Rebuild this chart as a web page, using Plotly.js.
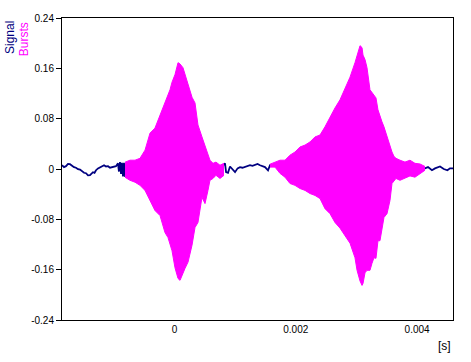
<!DOCTYPE html>
<html>
<head>
<meta charset="utf-8">
<script src="https://cdn.plot.ly/plotly-3.0.1.min.js"></script>
<style>html,body{margin:0;padding:0;background:#fff;}#chart{width:471px;height:362px;}</style>
</head>
<body>
<div id="chart"></div>
<script>
// ---- Data (time in ms, amplitude in signal units) ----
var signalTimeMs = [-1.855,-1.822,-1.789,-1.756,-1.723,-1.690,-1.657,-1.624,-1.591,-1.558,-1.525,-1.492,-1.459,-1.426,-1.393,-1.368,-1.344,-1.319,-1.294,-1.261,-1.228,-1.195,-1.162,-1.129,-1.096,-1.063,-1.031,-0.998,-0.965,-0.932,-0.916,-0.899,-0.882,-0.866,-0.849,-0.833,-0.816,
  0.585,0.635,0.684,0.734,0.783,0.833,0.850,0.882,0.915,0.948,0.998,1.040,1.080,1.120,1.162,1.205,1.245,1.286,1.327,1.369,1.410,1.451,1.492,1.542,1.575,
  4.130,4.180,4.245,4.295,4.378,4.440,4.500,4.542,4.592];
var signalValues = [0.006,0.003,0.0045,0.008,0.0077,0.005,0.003,0.002,-0.0003,-0.001,-0.0035,-0.006,-0.0067,-0.010,-0.0099,-0.007,-0.0051,-0.006,-0.0019,0.001,0.003,0.005,0.006,0.004,0.0045,0.002,0.003,0.004,0.0045,0.009,-0.004,0.011,-0.008,0.010,-0.012,0.010,-0.011,
  0.0013,-0.003,0.005,-0.006,0.004,0.009,-0.005,-0.006,0.004,0.001,-0.005,0.001,0.003,0.002,0.003,0.005,0.006,0.005,0.006,0.008,0.006,0.005,0.003,-0.002,0.006,
  0.001,0.003,-0.002,0.001,0.004,0.000,-0.002,0.001,0.001];

var burst1TimeMs = [-0.816,-0.734,-0.651,-0.569,-0.486,-0.404,-0.322,-0.239,-0.157,-0.107,-0.074,-0.041,0.008,0.058,0.091,0.140,0.173,0.223,0.289,0.338,0.387,0.453,0.503,0.552,0.585,0.635,0.684,0.750,0.816];
var burst1Upper = [0.0108,0.014,0.014,0.017,0.030,0.057,0.065,0.086,0.107,0.118,0.126,0.138,0.150,0.169,0.167,0.161,0.150,0.134,0.114,0.105,0.070,0.051,0.038,0.025,0.014,0.009,0.011,0.006,0.009];
var burst1Lower = [-0.0131,-0.018,-0.021,-0.026,-0.034,-0.050,-0.066,-0.074,-0.101,-0.109,-0.121,-0.130,-0.157,-0.174,-0.177,-0.165,-0.158,-0.148,-0.121,-0.093,-0.085,-0.045,-0.055,-0.034,-0.018,-0.015,-0.010,-0.015,-0.010];

var burst2TimeMs = [1.575,1.657,1.740,1.822,1.904,1.987,2.069,2.152,2.234,2.317,2.399,2.481,2.564,2.646,2.729,2.811,2.894,2.976,3.010,3.059,3.092,3.108,3.141,3.174,3.223,3.256,3.289,3.322,3.355,3.388,3.421,3.454,3.504,3.553,3.586,3.619,3.652,3.718,3.800,3.883,3.965,4.048,4.130];
var burst2Upper = [0.0077,0.011,0.014,0.014,0.022,0.027,0.035,0.038,0.043,0.051,0.054,0.067,0.083,0.097,0.110,0.129,0.146,0.169,0.182,0.196,0.193,0.181,0.174,0.161,0.126,0.121,0.118,0.113,0.094,0.083,0.075,0.067,0.051,0.035,0.027,0.020,0.017,0.014,0.011,0.014,0.009,0.008,0.004];
var burst2Lower = [0.003,0.003,-0.007,-0.013,-0.023,-0.026,-0.031,-0.034,-0.039,-0.042,-0.047,-0.063,-0.071,-0.085,-0.094,-0.106,-0.118,-0.141,-0.161,-0.178,-0.185,-0.182,-0.165,-0.161,-0.161,-0.150,-0.141,-0.142,-0.114,-0.114,-0.093,-0.077,-0.071,-0.050,-0.023,-0.018,-0.015,-0.018,-0.015,-0.011,-0.013,-0.008,-0.002];

var xTickVals = [0, 0.002, 0.004];
var xTickText = ['0', '0.002', '0.004'];
var yTickVals = [-0.24, -0.16, -0.08, 0, 0.08, 0.16, 0.24];
var yTickText = ['-0.24', '-0.16', '-0.08', '0', '0.08', '0.16', '0.24'];

// ---- Build ----
function toSec(a){ return a.map(function(v){ return v / 1000; }); }
var navy = '#000080', pink = '#ff00ff';
var font = 'Liberation Sans, Arial, sans-serif';

var traces = [
  {x: toSec(signalTimeMs), y: signalValues, mode: 'lines', line: {color: navy, width: 1.8}, name: 'Signal', connectgaps: true},
  {x: toSec(burst1TimeMs), y: burst1Lower, mode: 'lines', line: {color: pink, width: 1}, name: 'Bursts'},
  {x: toSec(burst1TimeMs), y: burst1Upper, mode: 'lines', line: {color: pink, width: 1}, fill: 'tonexty', fillcolor: pink, name: 'Bursts'},
  {x: toSec(burst2TimeMs), y: burst2Lower, mode: 'lines', line: {color: pink, width: 1}, name: 'Bursts'},
  {x: toSec(burst2TimeMs), y: burst2Upper, mode: 'lines', line: {color: pink, width: 1}, fill: 'tonexty', fillcolor: pink, name: 'Bursts'}
];

var layout = {
  width: 471, height: 362,
  margin: {l: 62, r: 18, t: 18, b: 42, pad: 0},
  paper_bgcolor: '#fff', plot_bgcolor: '#fff',
  showlegend: false,
  font: {family: font, size: 10, color: '#000'},
  xaxis: {
    range: [-0.001855, 0.004592],
    tickvals: xTickVals, ticktext: xTickText,
    showgrid: false, zeroline: false,
    showline: true, mirror: true, linecolor: '#000', linewidth: 1,
    ticks: '', tickfont: {family: font, size: 10, color: '#000'}
  },
  yaxis: {
    range: [-0.24, 0.24],
    tickvals: yTickVals, ticktext: yTickText,
    showgrid: false, zeroline: false,
    showline: true, mirror: true, linecolor: '#000', linewidth: 1,
    ticks: 'outside', ticklen: 5, tickcolor: '#000', tickwidth: 1,
    tickfont: {family: font, size: 10, color: '#000'}
  },
  annotations: [
    {text: 'Signal', xref: 'paper', yref: 'paper', x: -0.133, y: 0.937, xanchor: 'center', yanchor: 'middle', textangle: -90, showarrow: false, font: {family: font, size: 12, color: navy}},
    {text: 'Bursts', xref: 'paper', yref: 'paper', x: -0.097, y: 0.930, xanchor: 'center', yanchor: 'middle', textangle: -90, showarrow: false, font: {family: font, size: 12, color: pink}},
    {text: '[s]', xref: 'paper', yref: 'paper', x: 1, y: -0.085, xanchor: 'right', yanchor: 'middle', showarrow: false, font: {family: font, size: 12, color: '#000'}}
  ]
};

Plotly.newPlot('chart', traces, layout, {staticPlot: true, displayModeBar: false});
</script>
</body>
</html>
